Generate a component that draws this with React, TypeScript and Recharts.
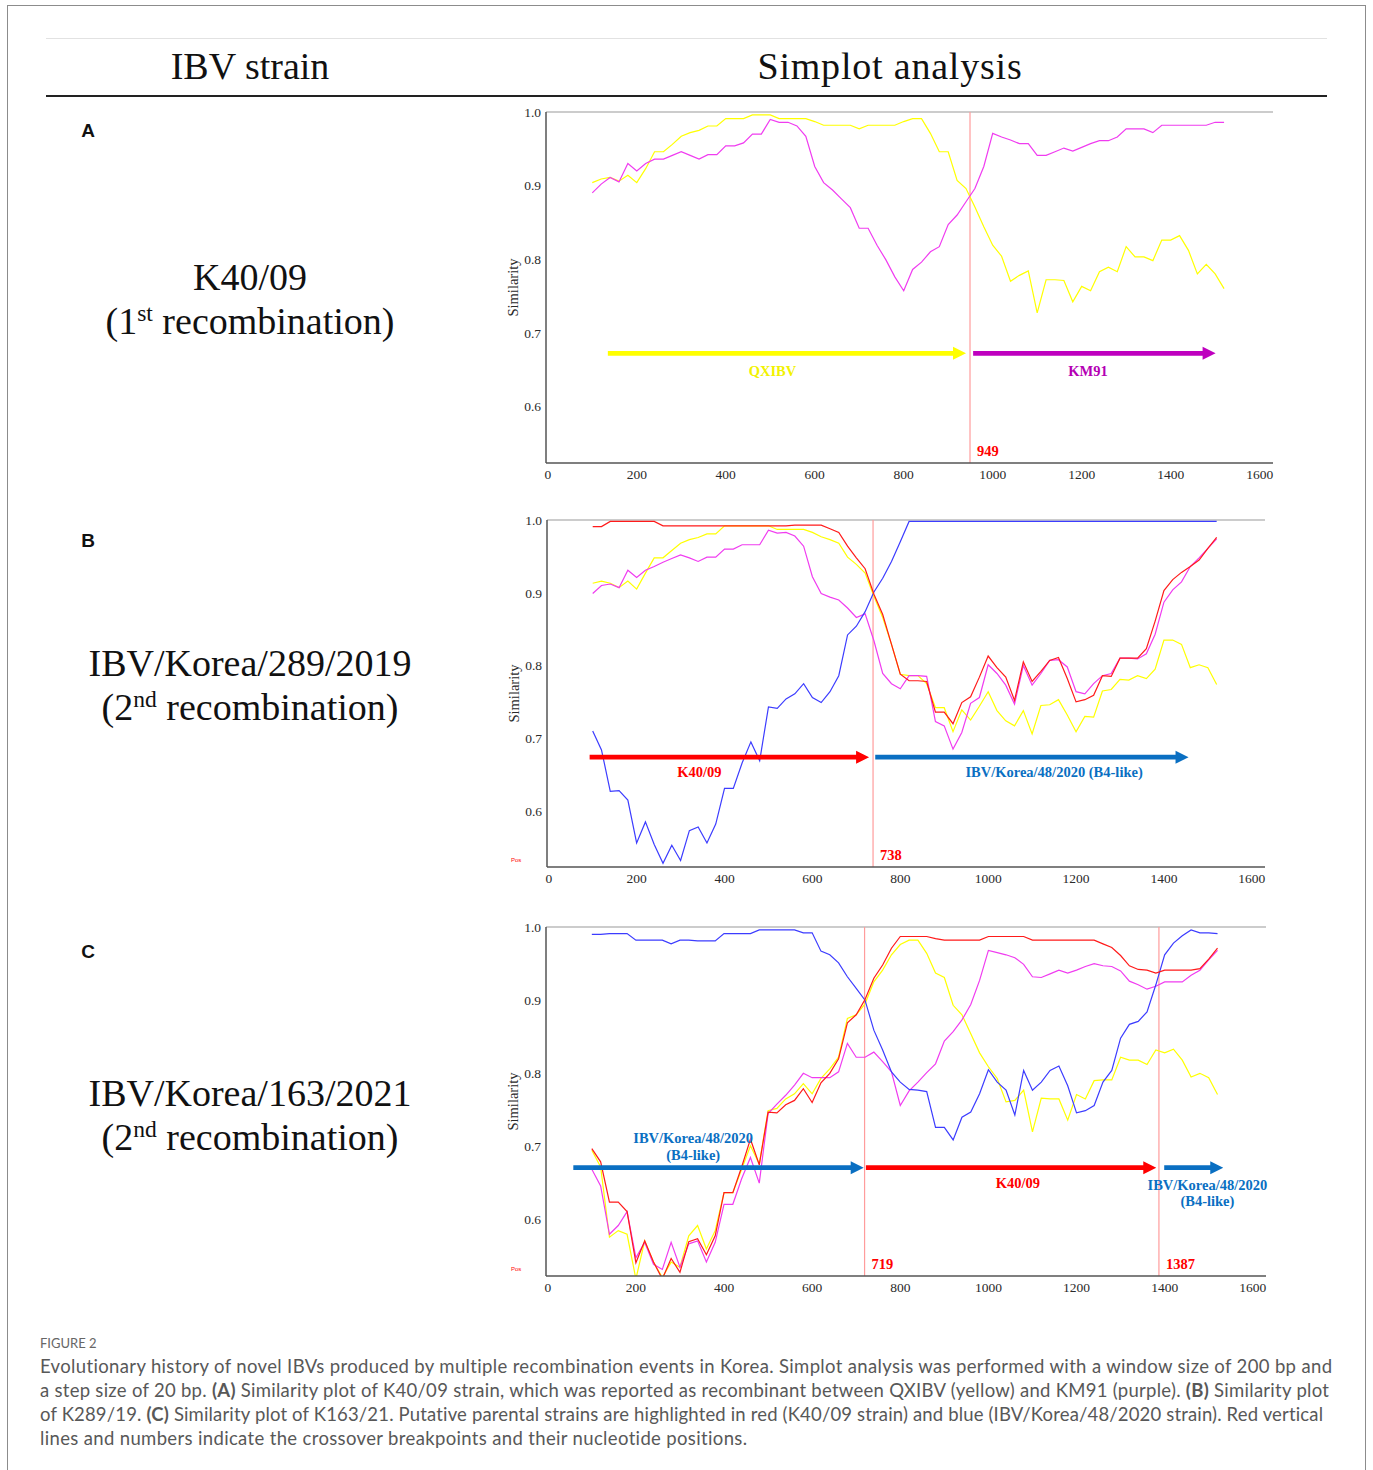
import { Line, LineChart, ReferenceDot, ReferenceLine, XAxis, YAxis } from 'recharts'

const SERIF = '"Liberation Serif", "Times New Roman", serif'
const SANS = '"Liberation Sans", Arial, sans-serif'
const CAPTION_FONT = 'Lato, "Open Sans", sans-serif'

// window mid-points (bp), step 20
const positions = [
  100, 120, 140, 160, 180, 200, 220, 240, 260, 280,
  300, 320, 340, 360, 380, 400, 420, 440, 460, 480,
  500, 520, 540, 560, 580, 600, 620, 640, 660, 680,
  700, 720, 740, 760, 780, 800, 820, 840, 860, 880,
  900, 920, 940, 960, 980, 1000, 1020, 1040, 1060, 1080,
  1100, 1120, 1140, 1160, 1180, 1200, 1220, 1240, 1260, 1280,
  1300, 1320, 1340, 1360, 1380, 1400, 1420, 1440, 1460, 1480,
  1500, 1520,
]

const xTicks = [0, 200, 400, 600, 800, 1000, 1200, 1400, 1600]
const yTicks = [0.6, 0.7, 0.8, 0.9, 1.0]

// A: K40/09
const aQXIBV = [
  0.904, 0.909, 0.911, 0.906, 0.914, 0.904, 0.923, 0.946, 0.946, 0.956,
  0.967, 0.972, 0.975, 0.981, 0.981, 0.991, 0.991, 0.991, 0.996, 0.996,
  0.996, 0.991, 0.991, 0.991, 0.991, 0.987, 0.982, 0.982, 0.982, 0.982,
  0.977, 0.982, 0.982, 0.982, 0.982, 0.987, 0.991, 0.991, 0.971, 0.946,
  0.946, 0.907, 0.896, 0.871, 0.844, 0.819, 0.804, 0.770, 0.778, 0.784,
  0.727, 0.772, 0.772, 0.771, 0.742, 0.763, 0.757, 0.783, 0.789, 0.783,
  0.817, 0.803, 0.803, 0.798, 0.826, 0.826, 0.832, 0.812, 0.780, 0.793,
  0.780, 0.760,
]
const aKM91 = [
  0.890, 0.902, 0.911, 0.905, 0.930, 0.920, 0.930, 0.936, 0.936, 0.941,
  0.946, 0.941, 0.936, 0.942, 0.942, 0.954, 0.954, 0.958, 0.970, 0.970,
  0.990, 0.986, 0.986, 0.981, 0.967, 0.926, 0.904, 0.894, 0.882, 0.870,
  0.842, 0.842, 0.819, 0.799, 0.776, 0.757, 0.786, 0.796, 0.810, 0.817,
  0.847, 0.860, 0.878, 0.896, 0.926, 0.971, 0.966, 0.962, 0.957, 0.957,
  0.941, 0.941, 0.946, 0.951, 0.947, 0.952, 0.957, 0.961, 0.961, 0.966,
  0.977, 0.977, 0.977, 0.972, 0.982, 0.982, 0.982, 0.982, 0.982, 0.982,
  0.986, 0.986,
]

// B: IBV/Korea/289/2019
const bK4009 = [
  0.991, 0.991, 0.998, 0.998, 0.998, 0.998, 0.998, 0.998, 0.992, 0.992,
  0.992, 0.992, 0.992, 0.992, 0.992, 0.992, 0.992, 0.992, 0.992, 0.992,
  0.992, 0.992, 0.992, 0.993, 0.993, 0.993, 0.993, 0.988, 0.983, 0.964,
  0.948, 0.933, 0.898, 0.870, 0.829, 0.788, 0.779, 0.779, 0.778, 0.736,
  0.736, 0.720, 0.749, 0.757, 0.784, 0.813, 0.797, 0.784, 0.752, 0.805,
  0.778, 0.792, 0.807, 0.811, 0.782, 0.750, 0.753, 0.759, 0.786, 0.785,
  0.810, 0.810, 0.810, 0.823, 0.861, 0.903, 0.918, 0.928, 0.936, 0.945,
  0.961, 0.976,
]
const bQXIBV = [
  0.913, 0.916, 0.913, 0.907, 0.916, 0.905, 0.927, 0.948, 0.948, 0.958,
  0.968, 0.973, 0.976, 0.981, 0.981, 0.992, 0.992, 0.992, 0.992, 0.992,
  0.992, 0.987, 0.987, 0.987, 0.987, 0.983, 0.977, 0.973, 0.968, 0.949,
  0.939, 0.927, 0.895, 0.866, 0.829, 0.788, 0.786, 0.786, 0.775, 0.742,
  0.742, 0.709, 0.739, 0.725, 0.744, 0.764, 0.738, 0.724, 0.717, 0.738,
  0.706, 0.745, 0.746, 0.753, 0.732, 0.709, 0.730, 0.729, 0.765, 0.767,
  0.781, 0.780, 0.786, 0.782, 0.795, 0.835, 0.835, 0.829, 0.797, 0.801,
  0.797, 0.774,
]
const bKM91 = [
  0.899, 0.910, 0.912, 0.907, 0.931, 0.921, 0.931, 0.936, 0.942, 0.947,
  0.952, 0.948, 0.943, 0.949, 0.949, 0.960, 0.960, 0.966, 0.966, 0.966,
  0.986, 0.982, 0.983, 0.978, 0.964, 0.922, 0.899, 0.894, 0.890, 0.879,
  0.866, 0.871, 0.834, 0.789, 0.775, 0.768, 0.786, 0.786, 0.785, 0.723,
  0.717, 0.685, 0.708, 0.748, 0.756, 0.801, 0.789, 0.773, 0.747, 0.800,
  0.773, 0.789, 0.807, 0.808, 0.798, 0.764, 0.761, 0.775, 0.786, 0.789,
  0.810, 0.810, 0.809, 0.816, 0.843, 0.887, 0.904, 0.915, 0.936, 0.948,
  0.961, 0.974,
]
const bKorea48 = [
  0.710, 0.684, 0.627, 0.628, 0.615, 0.556, 0.585, 0.554, 0.528, 0.553,
  0.532, 0.573, 0.578, 0.556, 0.582, 0.631, 0.631, 0.666, 0.695, 0.669,
  0.743, 0.741, 0.754, 0.761, 0.775, 0.756, 0.749, 0.764, 0.786, 0.842,
  0.854, 0.874, 0.901, 0.920, 0.943, 0.970, 0.998, 0.998, 0.998, 0.998,
  0.998, 0.998, 0.998, 0.998, 0.998, 0.998, 0.998, 0.998, 0.998, 0.998,
  0.998, 0.998, 0.998, 0.998, 0.998, 0.998, 0.998, 0.998, 0.998, 0.998,
  0.998, 0.998, 0.998, 0.998, 0.998, 0.998, 0.998, 0.998, 0.998, 0.998,
  0.998, 0.998,
]

// C: IBV/Korea/163/2021
const cKorea48 = [
  0.990, 0.990, 0.991, 0.991, 0.991, 0.982, 0.982, 0.982, 0.982, 0.977,
  0.982, 0.982, 0.981, 0.981, 0.981, 0.991, 0.991, 0.991, 0.991, 0.996,
  0.996, 0.996, 0.996, 0.996, 0.992, 0.992, 0.967, 0.962, 0.951, 0.932,
  0.916, 0.900, 0.859, 0.832, 0.802, 0.788, 0.778, 0.777, 0.775, 0.726,
  0.726, 0.709, 0.740, 0.747, 0.772, 0.805, 0.788, 0.777, 0.743, 0.804,
  0.777, 0.788, 0.804, 0.810, 0.783, 0.746, 0.749, 0.756, 0.788, 0.804,
  0.848, 0.867, 0.871, 0.884, 0.921, 0.962, 0.978, 0.988, 0.996, 0.992,
  0.992, 0.991,
]
const cK4009 = [
  0.697, 0.679, 0.624, 0.624, 0.611, 0.541, 0.571, 0.542, 0.519, 0.547,
  0.528, 0.570, 0.574, 0.552, 0.578, 0.637, 0.637, 0.672, 0.710, 0.675,
  0.747, 0.746, 0.757, 0.763, 0.779, 0.760, 0.787, 0.800, 0.820, 0.869,
  0.880, 0.901, 0.930, 0.948, 0.971, 0.987, 0.987, 0.987, 0.987, 0.984,
  0.982, 0.982, 0.982, 0.982, 0.982, 0.987, 0.987, 0.987, 0.987, 0.987,
  0.982, 0.982, 0.982, 0.982, 0.982, 0.982, 0.982, 0.982, 0.977, 0.972,
  0.961, 0.947, 0.942, 0.941, 0.937, 0.941, 0.941, 0.941, 0.941, 0.943,
  0.956, 0.971,
]
const cQXIBV = [
  0.695, 0.672, 0.576, 0.585, 0.580, 0.519, 0.571, 0.542, 0.521, 0.542,
  0.535, 0.578, 0.592, 0.560, 0.585, 0.637, 0.637, 0.669, 0.701, 0.676,
  0.749, 0.752, 0.765, 0.772, 0.786, 0.772, 0.793, 0.806, 0.822, 0.875,
  0.880, 0.895, 0.925, 0.941, 0.962, 0.976, 0.982, 0.982, 0.964, 0.937,
  0.931, 0.893, 0.880, 0.854, 0.828, 0.809, 0.793, 0.761, 0.763, 0.777,
  0.720, 0.766, 0.765, 0.765, 0.736, 0.771, 0.765, 0.790, 0.791, 0.791,
  0.822, 0.818, 0.818, 0.812, 0.832, 0.828, 0.833, 0.818, 0.795, 0.800,
  0.794, 0.771,
]
const cKM91 = [
  0.669, 0.646, 0.580, 0.592, 0.611, 0.548, 0.569, 0.539, 0.532, 0.569,
  0.535, 0.567, 0.571, 0.542, 0.569, 0.621, 0.621, 0.656, 0.685, 0.650,
  0.745, 0.758, 0.770, 0.784, 0.800, 0.794, 0.794, 0.794, 0.802, 0.841,
  0.822, 0.822, 0.829, 0.816, 0.802, 0.756, 0.776, 0.788, 0.801, 0.813,
  0.844, 0.857, 0.873, 0.894, 0.927, 0.968, 0.965, 0.962, 0.958, 0.949,
  0.932, 0.931, 0.936, 0.941, 0.937, 0.941, 0.946, 0.950, 0.947, 0.946,
  0.940, 0.926, 0.921, 0.915, 0.919, 0.925, 0.925, 0.925, 0.934, 0.941,
  0.955, 0.968,
]

const YELLOW = '#ffff00'
const MAGENTA = '#f03cf0'
const RED = '#ff1a1a'
const BLUE = '#3c3cff'
const ARROW_BLUE = '#0a6fc2'
const ARROW_PURPLE = '#bf00bf'

const X_DOMAIN: [number, number] = [-4, 1630]
const Y_DOMAIN: [number, number] = [0.523, 1]

interface Box { left: number; top: number; right: number; bottom: number }
interface Arrow { from: number; to: number; y: number; color: string }
interface Note { x: number; y: number; text: string; color: string }
interface Series { key: string; color: string }

function arrowShape(color: string) {
  return (p: any) => {
    const { x1, y1, x2 } = p
    const head = 13
    const half = 6.5
    const shaft = 2.4
    const xb = x2 - head
    return (
      <path
        d={`M${x1},${y1 - shaft}L${xb},${y1 - shaft}L${xb},${y1 - half}L${x2},${y1}L${xb},${y1 + half}L${xb},${y1 + shaft}L${x1},${y1 + shaft}Z`}
        fill={color}
      />
    )
  }
}

function noteShape(n: Note) {
  return (p: any) => (
    <text
      x={p.cx}
      y={p.cy}
      textAnchor="middle"
      dominantBaseline="central"
      fill={n.color}
      fontFamily={SERIF}
      fontWeight={700}
      fontSize={14.5}
    >
      {n.text}
    </text>
  )
}

interface PanelProps {
  box: Box
  rows: Record<string, number>[]
  series: Series[]
  breaks: number[]
  arrows: Arrow[]
  notes: Note[]
}

function SimPanel({ box, rows, series, breaks, arrows, notes }: PanelProps) {
  const yW = 66
  const xH = 30
  const m = { top: 10, right: 40, bottom: 0, left: 0 }
  const width = box.right - box.left + yW + m.left + m.right
  const height = box.bottom - box.top + m.top + xH
  const tickStyle = { fontFamily: SERIF, fontSize: 13.5, fill: '#2a2a2a' }

  return (
    <div style={{ position: 'absolute', left: box.left - yW - m.left, top: box.top - m.top }}>
      <LineChart width={width} height={height} data={rows} margin={m}>
        <XAxis
          type="number"
          dataKey="pos"
          domain={X_DOMAIN}
          ticks={xTicks}
          allowDataOverflow
          height={xH}
          tick={tickStyle}
          tickLine={false}
          tickSize={3}
          tickMargin={3}
          axisLine={{ stroke: '#555', strokeWidth: 1.5 }}
        />
        <YAxis
          type="number"
          domain={Y_DOMAIN}
          ticks={yTicks}
          allowDataOverflow
          width={yW}
          tick={tickStyle}
          tickLine={false}
          tickSize={2}
          tickMargin={3}
          tickFormatter={(v: number) => v.toFixed(1)}
          axisLine={{ stroke: '#555', strokeWidth: 1.5 }}
          label={{
            value: 'Similarity',
            angle: -90,
            position: 'center',
            fontFamily: SERIF,
            fontSize: 14.5,
            fill: '#2a2a2a',
          }}
        />
        <ReferenceLine y={1} stroke="#9a9a9a" strokeWidth={1.2} />
        {breaks.map((b) => (
          <ReferenceLine
            key={b}
            x={b}
            stroke="#ff9c9c"
            strokeWidth={1.2}
            label={{
              value: String(b),
              position: 'insideBottomLeft',
              offset: 7,
              fill: '#ff0000',
              fontFamily: SERIF,
              fontWeight: 700,
              fontSize: 14.5,
            }}
          />
        ))}
        {series.map((s) => (
          <Line
            key={s.key}
            type="linear"
            dataKey={s.key}
            stroke={s.color}
            strokeWidth={1.2}
            dot={false}
            activeDot={false}
            isAnimationActive={false}
          />
        ))}
        {arrows.map((a, i) => (
          <ReferenceLine
            key={'arrow' + i}
            segment={[
              { x: a.from, y: a.y },
              { x: a.to, y: a.y },
            ]}
            shape={arrowShape(a.color)}
          />
        ))}
        {notes.map((n, i) => (
          <ReferenceDot key={'note' + i} x={n.x} y={n.y} r={0} shape={noteShape(n)} />
        ))}
      </LineChart>
    </div>
  )
}

const rowsA = positions.map((pos, i) => ({ pos, qxibv: aQXIBV[i], km91: aKM91[i] }))
const rowsB = positions.map((pos, i) => ({
  pos,
  qxibv: bQXIBV[i],
  km91: bKM91[i],
  korea48: bKorea48[i],
  k4009: bK4009[i],
}))
const rowsC = positions.map((pos, i) => ({
  pos,
  qxibv: cQXIBV[i],
  km91: cKM91[i],
  korea48: cKorea48[i],
  k4009: cK4009[i],
}))

const fourSeries: Series[] = [
  { key: 'qxibv', color: YELLOW },
  { key: 'km91', color: MAGENTA },
  { key: 'korea48', color: BLUE },
  { key: 'k4009', color: RED },
]

function Centered({ x, y, size, children, style }: any) {
  return (
    <div
      style={{
        position: 'absolute',
        left: x - 400,
        width: 800,
        top: y - size * 0.6,
        lineHeight: `${size * 1.2}px`,
        fontSize: size,
        textAlign: 'center',
        whiteSpace: 'nowrap',
        ...style,
      }}
    >
      {children}
    </div>
  )
}

const strainStyle = { fontFamily: SERIF, color: '#111' }
const supStyle = { fontSize: '0.62em', verticalAlign: '0.55em', lineHeight: 0 }

function CaptionLine({ y, spacing, children }: any) {
  return (
    <div
      style={{
        position: 'absolute',
        left: 40,
        top: y - 12,
        lineHeight: '24px',
        fontSize: 18.5,
        letterSpacing: spacing,
        fontFamily: CAPTION_FONT,
        color: '#585858',
        whiteSpace: 'nowrap',
      }}
    >
      {children}
    </div>
  )
}

export default function App() {
  return (
    <div
      style={{
        position: 'absolute',
        left: 0,
        top: 0,
        width: 1373,
        height: 1470,
        background: '#fff',
        overflow: 'hidden',
      }}
    >
      <div
        style={{
          position: 'absolute',
          left: 7,
          top: 5,
          width: 1359,
          height: 1480,
          border: '1px solid #8c8c8c',
          boxSizing: 'border-box',
        }}
      />
      <div style={{ position: 'absolute', left: 46, top: 38, width: 1281, height: 1, background: '#e2e2e2' }} />
      <div style={{ position: 'absolute', left: 46, top: 95, width: 1281, height: 2, background: '#222' }} />

      <Centered x={250} y={67} size={38} style={strainStyle}>IBV strain</Centered>
      <Centered x={890} y={67} size={38} style={{ ...strainStyle, letterSpacing: 0.8 }}>
        Simplot analysis
      </Centered>

      {['A', 'B', 'C'].map((l, i) => (
        <Centered
          key={l}
          x={88}
          y={[131, 541, 952][i]}
          size={19}
          style={{ fontFamily: SANS, fontWeight: 700, color: '#111' }}
        >
          {l}
        </Centered>
      ))}

      <Centered x={250} y={278} size={38} style={strainStyle}>K40/09</Centered>
      <Centered x={250} y={322} size={38} style={strainStyle}>
        (1<span style={supStyle}>st</span> recombination)
      </Centered>
      <Centered x={250} y={664} size={38} style={strainStyle}>IBV/Korea/289/2019</Centered>
      <Centered x={250} y={708} size={38} style={strainStyle}>
        (2<span style={supStyle}>nd</span> recombination)
      </Centered>
      <Centered x={250} y={1094} size={38} style={strainStyle}>IBV/Korea/163/2021</Centered>
      <Centered x={250} y={1138} size={38} style={strainStyle}>
        (2<span style={supStyle}>nd</span> recombination)
      </Centered>

      <SimPanel
        box={{ left: 546, top: 112, right: 1273, bottom: 463 }}
        rows={rowsA}
        series={[
          { key: 'qxibv', color: YELLOW },
          { key: 'km91', color: MAGENTA },
        ]}
        breaks={[949]}
        arrows={[
          { from: 135, to: 940, y: 0.672, color: YELLOW },
          { from: 956, to: 1501, y: 0.672, color: ARROW_PURPLE },
        ]}
        notes={[
          { x: 505, y: 0.648, text: 'QXIBV', color: '#f2f200' },
          { x: 1214, y: 0.648, text: 'KM91', color: '#b400b4' },
        ]}
      />
      <SimPanel
        box={{ left: 547, top: 520, right: 1265, bottom: 867 }}
        rows={rowsB}
        series={fourSeries}
        breaks={[738]}
        arrows={[
          { from: 93, to: 729, y: 0.674, color: '#ff0000' },
          { from: 743, to: 1456, y: 0.674, color: ARROW_BLUE },
        ]}
        notes={[
          { x: 343, y: 0.653, text: 'K40/09', color: '#ff0000' },
          { x: 1150, y: 0.653, text: 'IBV/Korea/48/2020 (B4-like)', color: ARROW_BLUE },
        ]}
      />
      <SimPanel
        box={{ left: 546, top: 927, right: 1266, bottom: 1276 }}
        rows={rowsC}
        series={fourSeries}
        breaks={[719, 1387]}
        arrows={[
          { from: 58, to: 717, y: 0.671, color: ARROW_BLUE },
          { from: 722, to: 1381, y: 0.671, color: '#ff0000' },
          { from: 1399, to: 1533, y: 0.671, color: ARROW_BLUE },
        ]}
        notes={[
          { x: 330, y: 0.711, text: 'IBV/Korea/48/2020', color: ARROW_BLUE },
          { x: 330, y: 0.688, text: '(B4-like)', color: ARROW_BLUE },
          { x: 1067, y: 0.65, text: 'K40/09', color: '#ff0000' },
          { x: 1497, y: 0.648, text: 'IBV/Korea/48/2020', color: ARROW_BLUE },
          { x: 1497, y: 0.625, text: '(B4-like)', color: ARROW_BLUE },
        ]}
      />

      <div style={{ position: 'absolute', left: 511, top: 857, fontSize: 6, color: '#ff0000', fontFamily: SANS }}>Pos</div>
      <div style={{ position: 'absolute', left: 511, top: 1266, fontSize: 6, color: '#ff0000', fontFamily: SANS }}>Pos</div>

      <div
        style={{
          position: 'absolute',
          left: 40,
          top: 1335,
          fontSize: 13,
          fontFamily: CAPTION_FONT,
          color: '#666',
          lineHeight: '16px',
        }}
      >
        FIGURE 2
      </div>
      <CaptionLine y={1366} spacing={0.35}>
        Evolutionary history of novel IBVs produced by multiple recombination events in Korea. Simplot analysis was performed with a window size of 200 bp and
      </CaptionLine>
      <CaptionLine y={1390} spacing={0.28}>
        a step size of 20 bp. <b>(A)</b> Similarity plot of K40/09 strain, which was reported as recombinant between QXIBV (yellow) and KM91 (purple). <b>(B)</b> Similarity plot
      </CaptionLine>
      <CaptionLine y={1414} spacing={0.16}>
        of K289/19. <b>(C)</b> Similarity plot of K163/21. Putative parental strains are highlighted in red (K40/09 strain) and blue (IBV/Korea/48/2020 strain). Red vertical
      </CaptionLine>
      <CaptionLine y={1438} spacing={0.35}>
        lines and numbers indicate the crossover breakpoints and their nucleotide positions.
      </CaptionLine>
    </div>
  )
}
